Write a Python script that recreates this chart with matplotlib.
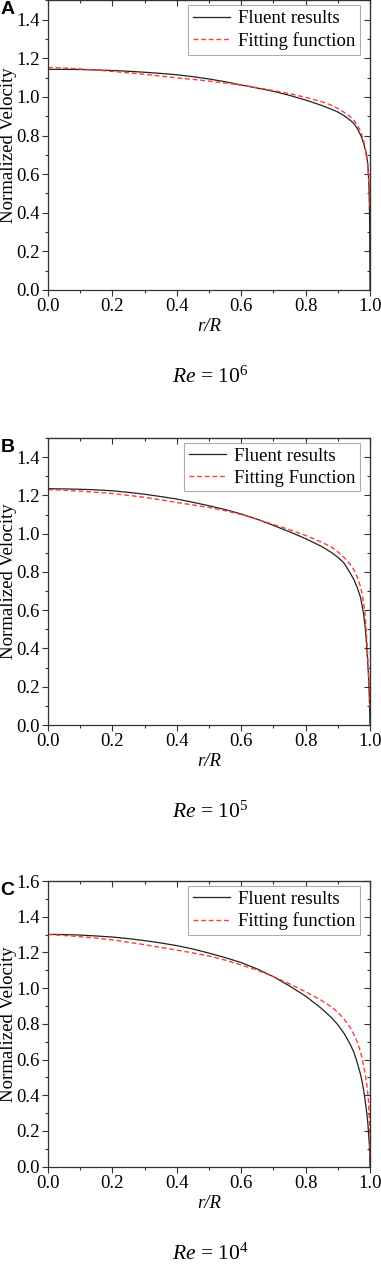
import numpy as np
import matplotlib
matplotlib.use('Agg')
import matplotlib.pyplot as plt
from matplotlib.ticker import MultipleLocator

plt.rcParams['font.family'] = ['Liberation Serif', 'DejaVu Serif']
plt.rcParams['mathtext.fontset'] = 'custom'
plt.rcParams['mathtext.rm'] = 'Liberation Serif'
plt.rcParams['mathtext.it'] = 'Liberation Serif:italic'

# ---- data ----
# Re = 1e6
r_fl_a = [0, 0.05, 0.1, 0.15, 0.2, 0.25, 0.3, 0.35, 0.4, 0.45, 0.5, 0.55, 0.6, 0.65, 0.7, 0.75,
          0.8, 0.85, 0.88, 0.9, 0.92, 0.94, 0.95, 0.96, 0.97, 0.975, 0.98, 0.985, 0.99, 0.993,
          0.995, 0.997, 0.998, 0.999, 0.9995, 1.0]
v_fl_a = [1.143, 1.143, 1.142, 1.140, 1.137, 1.133, 1.128, 1.122, 1.115, 1.105, 1.093, 1.079, 1.062,
          1.046, 1.029, 1.008, 0.984, 0.956, 0.936, 0.922, 0.902, 0.877, 0.862, 0.838, 0.805, 0.785,
          0.76, 0.73, 0.69, 0.655, 0.60, 0.52, 0.45, 0.33, 0.2, 0.0]
r_fit_a = [0, 0.05, 0.1, 0.15, 0.2, 0.25, 0.3, 0.35, 0.4, 0.45, 0.5, 0.55, 0.6, 0.65, 0.7, 0.75,
           0.8, 0.85, 0.88, 0.9, 0.92, 0.94, 0.95, 0.96, 0.97, 0.975, 0.98, 0.985, 0.988, 0.991,
           0.995, 0.997, 0.999, 1.0]
v_fit_a = [1.153, 1.150, 1.145, 1.139, 1.132, 1.125, 1.117, 1.108, 1.099, 1.091, 1.082, 1.072, 1.061,
           1.048, 1.033, 1.017, 0.998, 0.975, 0.957, 0.94, 0.92, 0.895, 0.878, 0.855, 0.825, 0.80,
           0.775, 0.74, 0.707, 0.67, 0.60, 0.54, 0.45, 0.42]

# Re = 1e5
r_fl_b = [0, 0.05, 0.1, 0.15, 0.2, 0.25, 0.3, 0.35, 0.4, 0.45, 0.5, 0.55, 0.6, 0.65, 0.7, 0.75,
          0.8, 0.85, 0.88, 0.9, 0.92, 0.94, 0.95, 0.96, 0.97, 0.975, 0.98, 0.985, 0.988, 0.991,
          0.995, 0.998, 0.999, 1.0]
v_fl_b = [1.235, 1.234, 1.232, 1.229, 1.224, 1.216, 1.206, 1.194, 1.181, 1.164, 1.146, 1.126, 1.103,
          1.075, 1.043, 1.010, 0.974, 0.933, 0.902, 0.877, 0.845, 0.79, 0.76, 0.72, 0.67, 0.63,
          0.58, 0.51, 0.45, 0.38, 0.27, 0.15, 0.08, 0.0]
r_fit_b = [0, 0.05, 0.1, 0.15, 0.2, 0.25, 0.3, 0.35, 0.4, 0.45, 0.5, 0.55, 0.6, 0.65, 0.7, 0.75,
           0.8, 0.85, 0.88, 0.9, 0.92, 0.94, 0.95, 0.96, 0.97, 0.975, 0.98, 0.984, 0.988, 0.992,
           0.995, 0.998, 0.999]
v_fit_b = [1.23, 1.227, 1.222, 1.216, 1.21, 1.20, 1.19, 1.177, 1.163, 1.15, 1.137, 1.12, 1.10,
           1.075, 1.048, 1.021, 0.991, 0.955, 0.93, 0.905, 0.875, 0.835, 0.81, 0.775, 0.725, 0.69,
           0.64, 0.59, 0.50, 0.39, 0.29, 0.16, 0.095]

# Re = 1e4
r_fl_c = [0, 0.05, 0.1, 0.15, 0.2, 0.25, 0.3, 0.35, 0.4, 0.45, 0.5, 0.55, 0.6, 0.65, 0.7, 0.75,
          0.8, 0.85, 0.88, 0.9, 0.92, 0.94, 0.95, 0.96, 0.97, 0.975, 0.98, 0.985, 0.99, 0.993,
          0.995, 0.998, 0.999, 1.0]
v_fl_c = [1.301, 1.30, 1.297, 1.292, 1.286, 1.277, 1.266, 1.253, 1.238, 1.219, 1.196, 1.171, 1.143,
          1.107, 1.064, 1.012, 0.955, 0.885, 0.835, 0.795, 0.745, 0.68, 0.64, 0.585, 0.52, 0.48,
          0.43, 0.37, 0.30, 0.25, 0.20, 0.12, 0.07, 0.0]
r_fit_c = [0, 0.05, 0.1, 0.15, 0.2, 0.25, 0.3, 0.35, 0.4, 0.45, 0.5, 0.55, 0.6, 0.65, 0.7, 0.75,
           0.8, 0.85, 0.88, 0.9, 0.92, 0.94, 0.95, 0.96, 0.97, 0.975, 0.98, 0.985, 0.99, 0.993,
           0.995, 0.997, 0.998, 0.999, 1.0]
v_fit_c = [1.30, 1.295, 1.288, 1.28, 1.27, 1.257, 1.243, 1.228, 1.213, 1.197, 1.18, 1.157, 1.13,
           1.10, 1.064, 1.024, 0.98, 0.93, 0.895, 0.865, 0.825, 0.775, 0.74, 0.70, 0.645, 0.61,
           0.565, 0.52, 0.46, 0.41, 0.37, 0.31, 0.26, 0.18, 0.05]

panels = [
    ('A', r_fl_a, v_fl_a, r_fit_a, v_fit_a, 'Fitting function', 1.5, '6'),
    ('B', r_fl_b, v_fl_b, r_fit_b, v_fit_b, 'Fitting Function', 1.5, '5'),
    ('C', r_fl_c, v_fl_c, r_fit_c, v_fit_c, 'Fitting function', 1.6, '4'),
]

W, H = 381, 1265
fig = plt.figure(figsize=(W/100, H/100), dpi=100)

# axes boxes in pixels: (top, bottom)
boxes = [(0.5, 289.8), (438, 725), (881, 1166.6)]
left, right = 48, 370

for (tag, rf, vf, rt, vt, fitlab, ytop, ex), (top, bot) in zip(panels, boxes):
    ax = fig.add_axes([left/W, (H-bot)/H, (right-left)/W, (bot-top)/H])
    ax.plot(rf, vf, color='#222222', lw=0.9, label='Fluent results')
    ax.plot(rt, vt, color='#ff3b3b', lw=1.0, ls=(0, (3.5, 2)), label=fitlab)
    ax.set_xlim(0, 1.0)
    ax.set_ylim(0, ytop)
    ax.xaxis.set_major_locator(MultipleLocator(0.2))
    ax.xaxis.set_minor_locator(MultipleLocator(0.1))
    ax.yaxis.set_major_locator(MultipleLocator(0.2))
    ax.yaxis.set_minor_locator(MultipleLocator(0.1))
    ax.tick_params(which='both', direction='out', top=False, right=False,
                   labelsize=13.5, color='#333333', pad=2)
    ax.tick_params(which='major', length=4, width=0.8)
    ax.tick_params(which='minor', length=2.5, width=0.8)
    for s in ax.spines.values():
        s.set_color('#333333')
        s.set_linewidth(0.9)
    # inward ticks on top and right
    secx = ax.secondary_xaxis('top')
    secx.xaxis.set_major_locator(MultipleLocator(0.2))
    secx.xaxis.set_minor_locator(MultipleLocator(0.1))
    secx.tick_params(which='both', direction='in', labeltop=False, color='#333333')
    secx.tick_params(which='major', length=4, width=0.8)
    secx.tick_params(which='minor', length=2.5, width=0.8)
    secy = ax.secondary_yaxis('right')
    secy.yaxis.set_major_locator(MultipleLocator(0.2))
    secy.yaxis.set_minor_locator(MultipleLocator(0.1))
    secy.tick_params(which='both', direction='in', labelright=False, color='#333333')
    secy.tick_params(which='major', length=4, width=0.8)
    secy.tick_params(which='minor', length=2.5, width=0.8)

    ax.set_ylabel('Normalized Velocity', fontsize=13.5)
    ax.yaxis.set_label_coords(-31.0/322, 0.5)
    ax.set_xlabel('r/R', fontsize=13.5, fontstyle='italic', labelpad=2)

    leg = ax.legend(loc='upper right', bbox_to_anchor=(1 - 10/322, 1 - 5/(bot-top)),
                    borderaxespad=0, fontsize=13.5, frameon=True, fancybox=False,
                    handlelength=2.0, handletextpad=0.4, labelspacing=0.25,
                    borderpad=0.25)
    leg.get_frame().set_edgecolor('#999999')
    leg.get_frame().set_linewidth(0.8)

    fig.text(0.5/W, 1 - (top + 1)/H, tag, fontsize=14, fontweight='bold',
             family='Liberation Sans', ha='left', va='top')
    fig.text(210/W, 1 - (bot + 93)/H, r'$Re$ = 10$^{' + ex + '}$', fontsize=15.5,
             ha='center', va='baseline')

fig.savefig('out.png', dpi=100)
